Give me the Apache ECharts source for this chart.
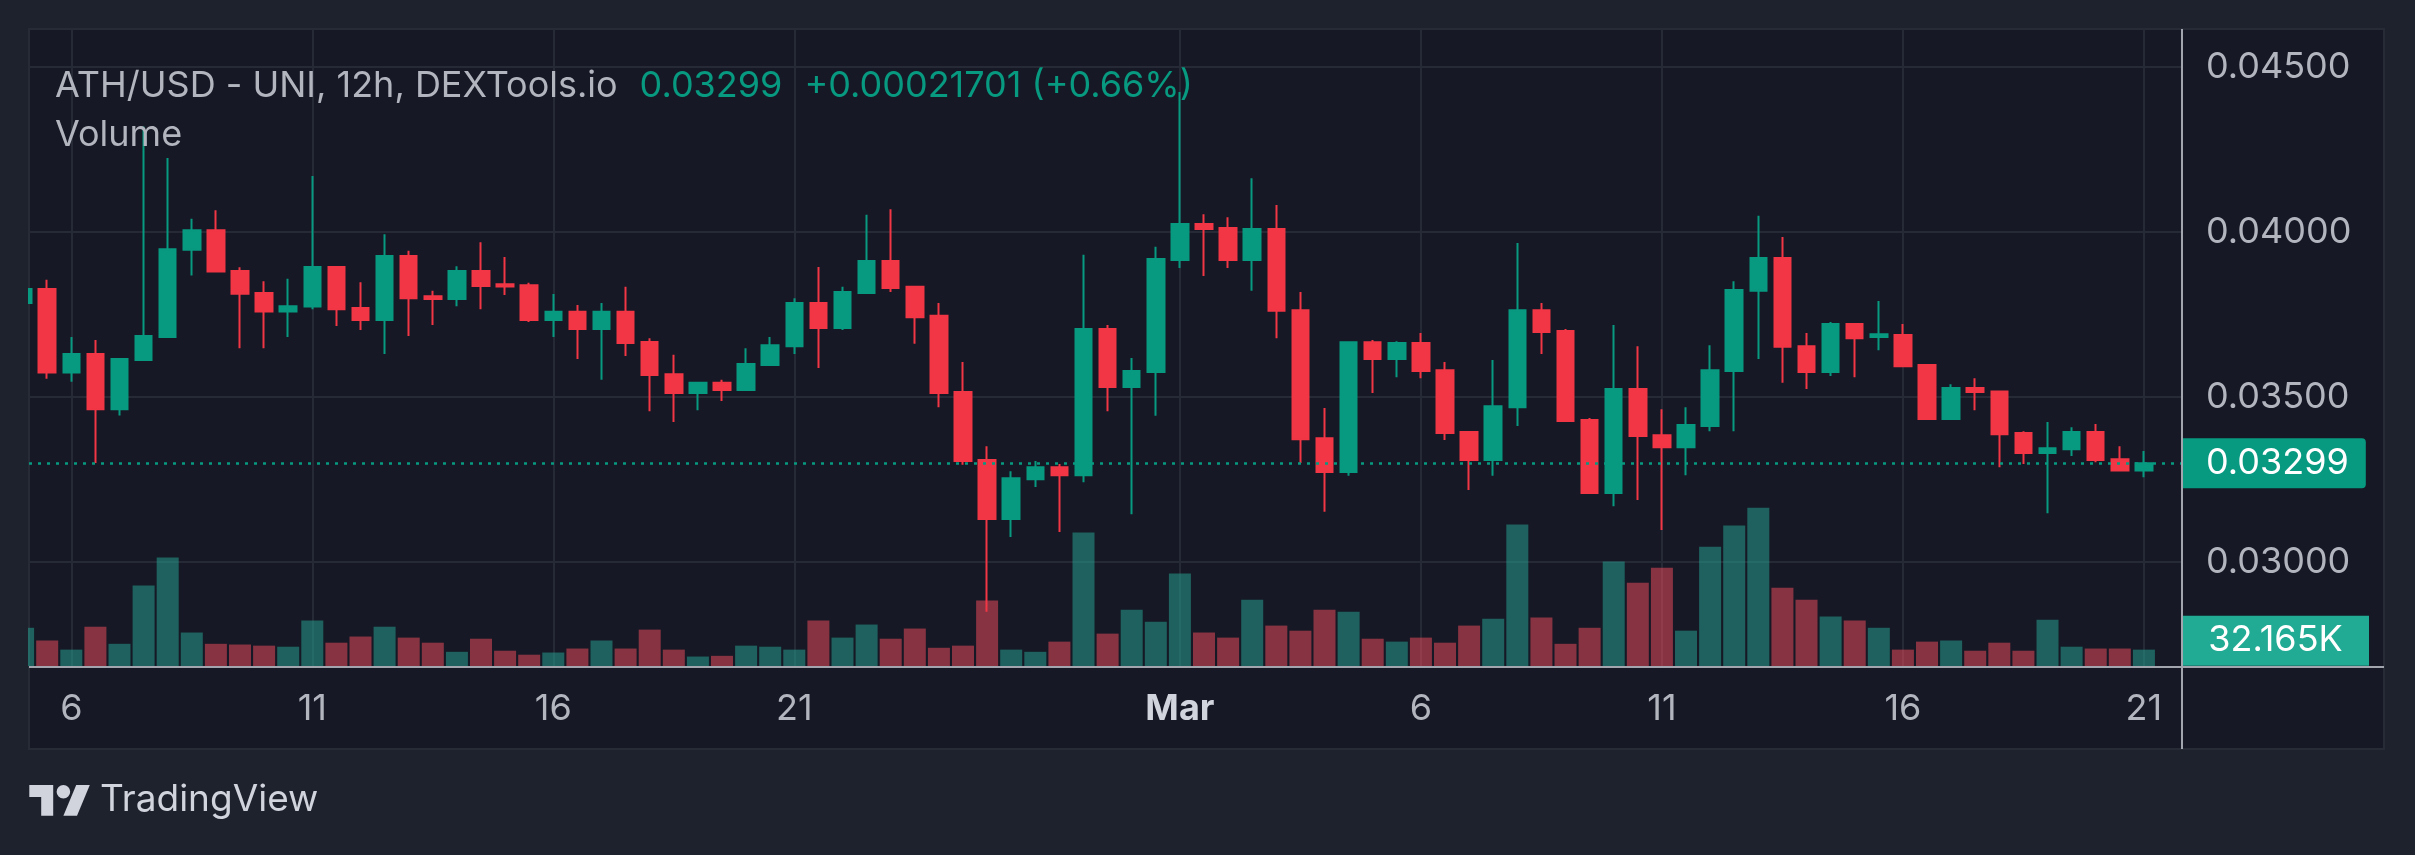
<!DOCTYPE html>
<html><head><meta charset="utf-8">
<script src="https://cdn.jsdelivr.net/npm/echarts@6/dist/echarts.min.js"></script>
<style>html,body{margin:0;padding:0;background:#1e222d;}#c{width:2415px;height:855px;}</style>
</head><body><div id="c"></div>
<script>
// ---- data (12h candles, ATH/USD) ----
const candleTimes = [
'02-05 00:00','02-05 12:00','02-06 00:00','02-06 12:00','02-07 00:00','02-07 12:00','02-08 00:00','02-08 12:00',
'02-09 00:00','02-09 12:00','02-10 00:00','02-10 12:00','02-11 00:00','02-11 12:00','02-12 00:00','02-12 12:00',
'02-13 00:00','02-13 12:00','02-14 00:00','02-14 12:00','02-15 00:00','02-15 12:00','02-16 00:00','02-16 12:00',
'02-17 00:00','02-17 12:00','02-18 00:00','02-18 12:00','02-19 00:00','02-19 12:00','02-20 00:00','02-20 12:00',
'02-21 00:00','02-21 12:00','02-22 00:00','02-22 12:00','02-23 00:00','02-23 12:00','02-24 00:00','02-24 12:00',
'02-25 00:00','02-25 12:00','02-26 00:00','02-26 12:00','02-27 00:00','02-27 12:00','02-28 00:00','02-28 12:00',
'03-01 00:00','03-01 12:00','03-02 00:00','03-02 12:00','03-03 00:00','03-03 12:00','03-04 00:00','03-04 12:00',
'03-05 00:00','03-05 12:00','03-06 00:00','03-06 12:00','03-07 00:00','03-07 12:00','03-08 00:00','03-08 12:00',
'03-09 00:00','03-09 12:00','03-10 00:00','03-10 12:00','03-11 00:00','03-11 12:00','03-12 00:00','03-12 12:00',
'03-13 00:00','03-13 12:00','03-14 00:00','03-14 12:00','03-15 00:00','03-15 12:00','03-16 00:00','03-16 12:00',
'03-17 00:00','03-17 12:00','03-18 00:00','03-18 12:00','03-19 00:00','03-19 12:00','03-20 00:00','03-20 12:00',
'03-21 00:00'];
const open = [0.03785,0.03827,0.03574,0.03630,0.03463,0.03612,0.03682,0.03946,0.04005,0.03882,
0.03815,0.03759,0.03774,0.03894,0.03770,0.03733,0.03927,0.03805,0.03797,0.03882,
0.03842,0.03839,0.03733,0.03758,0.03706,0.03758,0.03667,0.03569,0.03512,0.03543,
0.03521,0.03597,0.03654,0.03785,0.03709,0.03815,0.03912,0.03834,0.03746,0.03515,
0.03309,0.03130,0.03251,0.03287,0.03263,0.03706,0.03530,0.03576,0.03915,0.04024,
0.04012,0.03915,0.04009,0.03763,0.03375,0.03273,0.03666,0.03615,0.03664,0.03581,
0.03394,0.03309,0.03469,0.03763,0.03700,0.03430,0.03209,0.03524,0.03384,0.03348,
0.03412,0.03579,0.03822,0.03921,0.03654,0.03576,0.03721,0.03682,0.03688,0.03597,
0.03433,0.03527,0.03517,0.03391,0.03330,0.03342,0.03394,0.03311,0.03277];
const close = [0.03827,0.03574,0.03630,0.03463,0.03615,0.03685,0.03948,0.04005,0.03880,0.03813,
0.03759,0.03775,0.03894,0.03766,0.03733,0.03927,0.03799,0.03797,0.03882,0.03836,
0.03835,0.03733,0.03758,0.03706,0.03758,0.03664,0.03567,0.03512,0.03543,0.03521,
0.03600,0.03657,0.03785,0.03709,0.03818,0.03912,0.03830,0.03742,0.03512,0.03306,
0.03130,0.03254,0.03287,0.03263,0.03706,0.03530,0.03579,0.03918,0.04024,0.04009,
0.03915,0.04009,0.03761,0.03372,0.03273,0.03666,0.03615,0.03664,0.03579,0.03391,
0.03309,0.03472,0.03763,0.03697,0.03427,0.03209,0.03524,0.03382,0.03348,0.03415,
0.03581,0.03824,0.03921,0.03652,0.03576,0.03721,0.03678,0.03690,0.03593,0.03433,
0.03527,0.03515,0.03387,0.03330,0.03345,0.03394,0.03309,0.03277,0.03299];
const low = [0.03777,0.03555,0.03546,0.03300,0.03444,0.03609,0.03680,0.03868,0.03878,0.03648,
0.03648,0.03682,0.03766,0.03715,0.03703,0.03630,0.03685,0.03718,0.03775,0.03766,
0.03809,0.03727,0.03682,0.03615,0.03552,0.03624,0.03457,0.03424,0.03460,0.03488,
0.03521,0.03597,0.03630,0.03588,0.03703,0.03815,0.03818,0.03661,0.03469,0.03295,
0.02849,0.03076,0.03227,0.03091,0.03242,0.03457,0.03145,0.03443,0.03891,0.03867,
0.03891,0.03822,0.03678,0.03300,0.03152,0.03261,0.03512,0.03560,0.03557,0.03370,
0.03218,0.03261,0.03412,0.03630,0.03427,0.03209,0.03169,0.03188,0.03097,0.03263,
0.03396,0.03396,0.03615,0.03543,0.03524,0.03564,0.03560,0.03642,0.03593,0.03433,
0.03430,0.03460,0.03287,0.03297,0.03148,0.03321,0.03302,0.03275,0.03257];
const high = [0.03833,0.03855,0.03682,0.03673,0.03618,0.04320,0.04224,0.04040,0.04066,0.03893,
0.03851,0.03858,0.04170,0.03896,0.03848,0.03993,0.03943,0.03822,0.03896,0.03969,
0.03924,0.03846,0.03812,0.03779,0.03785,0.03834,0.03678,0.03628,0.03543,0.03552,
0.03648,0.03682,0.03799,0.03894,0.03834,0.04052,0.04069,0.03834,0.03785,0.03606,
0.03351,0.03275,0.03306,0.03297,0.03931,0.03718,0.03618,0.03955,0.04424,0.04054,
0.04045,0.04163,0.04082,0.03818,0.03467,0.03669,0.03673,0.03669,0.03694,0.03606,
0.03394,0.03612,0.03967,0.03785,0.03706,0.03436,0.03718,0.03654,0.03463,0.03469,
0.03657,0.03851,0.04049,0.03985,0.03694,0.03727,0.03721,0.03791,0.03721,0.03597,
0.03539,0.03557,0.03517,0.03396,0.03424,0.03408,0.03418,0.03351,0.03336];
const volumeK = [75.1,50.1,32.2,77.2,43.6,158.0,213.1,65.8,43.6,42.2,
40.0,37.9,89.4,45.8,57.9,77.2,55.8,45.8,27.9,53.6,
30.0,22.2,26.5,34.3,50.1,34.3,71.5,32.2,18.6,20.0,
40.0,37.9,32.2,89.4,55.8,81.5,53.6,73.6,35.8,40.0,
128.7,32.2,27.9,47.9,262.4,63.6,110.8,87.2,181.6,65.8,
55.8,130.1,79.4,69.4,110.8,106.5,53.6,47.9,55.8,45.8,
79.4,93.0,278.1,95.1,43.6,75.1,205.2,163.7,193.1,69.4,
234.5,276.0,311.0,153.7,130.1,97.2,89.4,75.1,32.2,47.9,
50.1,30.0,45.8,30.0,90.8,37.9,34.3,34.3,32.165];
const tickIndex = [2, 12, 22, 32, 48, 58, 68, 78, 88];
const tickLabels = ['6', '11', '16', '21', 'Mar', '6', '11', '16', '21'];
const priceTicks = [0.030, 0.035, 0.040, 0.045];
const headerSymbol = 'ATH/USD - UNI, 12h, DEXTools.io';
const headerPrice = '0.03299';
const headerChange = '+0.00021701 (+0.66%)';

// ---- styles ----
const FONT = 'Inter';
const FS = 36;
const UP = '#089981', DOWN = '#f23645';
const VOL_UP = 'rgba(38,170,152,0.5)', VOL_DOWN = 'rgba(250,78,95,0.5)';
const TXT = '#b2b5be';
const GRIDC = '#262a36';
const OUTER = '#1e222d';

const lastI = close.length - 1;
const candleData = close.map((c, i) => [i, open[i], c, low[i], high[i]]);
const volData = volumeK.map((v, i) => ({ value: [i, v], itemStyle: { color: close[i] >= open[i] ? VOL_UP : VOL_DOWN } }));
const X_MIN = 0.245, X_MAX = 89.58;

const chart = echarts.init(document.getElementById('c'));
chart.setOption({
  backgroundColor: OUTER,
  animation: false,
  textStyle: { fontFamily: FONT },
  title: [
    { left: 55, top: 66, padding: 0, z: 20,
      text: '{a|' + headerSymbol + '}{b|' + headerPrice + '}{c|' + headerChange + '}',
      textStyle: { fontWeight: 'normal', rich: {
        a: { color: TXT, fontSize: FS, fontFamily: FONT, fontWeight: 'normal', lineHeight: 40 },
        b: { color: UP, fontSize: FS, fontFamily: FONT, fontWeight: 'normal', lineHeight: 40, padding: [0, 0, 0, 22] },
        c: { color: UP, fontSize: FS, fontFamily: FONT, fontWeight: 'normal', lineHeight: 40, padding: [0, 0, 0, 22] }
      } } },
    { left: 55, top: 115, padding: 0, z: 20, text: 'Volume',
      textStyle: { color: TXT, fontSize: FS, fontFamily: FONT, fontWeight: 'normal', lineHeight: 40 } }
  ],
  graphic: [
    { type: 'rect', z: -10, silent: true, shape: { x: 29, y: 29, width: 2355, height: 720 },
      style: { fill: '#161925', stroke: '#272b36', lineWidth: 2 } },
    { type: 'rect', z: 40, silent: true, shape: { x: 0, y: 29, width: 28, height: 720 },
      style: { fill: OUTER } },
    { type: 'line', z: 50, silent: true, shape: { x1: 29, y1: 667, x2: 2384, y2: 667 },
      style: { stroke: '#a2a5ae', lineWidth: 2 } },
    { type: 'line', z: 50, silent: true, shape: { x1: 2182, y1: 29, x2: 2182, y2: 749 },
      style: { stroke: '#a2a5ae', lineWidth: 2 } },
    { type: 'polygon', silent: true, shape: { points: [[29.3,785],[53.2,785],[53.2,815.7],[41.2,815.7],[41.2,797],[29.3,797]] }, style: { fill: '#d1d4dc' } },
    { type: 'circle', silent: true, shape: { cx: 63.4, cy: 791.8, r: 6.8 }, style: { fill: '#d1d4dc' } },
    { type: 'polygon', silent: true, shape: { points: [[63.4,815.7],[77,815.7],[89.8,785],[76.2,785]] }, style: { fill: '#d1d4dc' } },
    { type: 'text', silent: true, x: 100, y: 800,
      style: { text: 'TradingView', fill: '#d1d4dc', fontSize: 37, fontFamily: FONT, verticalAlign: 'middle', align: 'left' } }
  ],
  grid: { left: 29, top: 29, width: 2153, height: 637, show: false },
  xAxis: {
    type: 'value', min: X_MIN, max: X_MAX,
    axisLine: { show: false },
    axisTick: { show: false, customValues: tickIndex },
    axisLabel: {
      customValues: tickIndex, margin: 23, color: TXT, fontSize: FS, fontFamily: FONT, lineHeight: 40,
      formatter: v => { const k = tickIndex.indexOf(Math.round(v)); const s = k >= 0 ? tickLabels[k] : ''; return s === 'Mar' ? '{m|Mar}' : s; },
      rich: { m: { color: '#d1d4dc', fontWeight: 'bold', fontSize: FS, fontFamily: FONT, lineHeight: 40 } }
    },
    splitLine: { show: true, lineStyle: { color: GRIDC, width: 2 } }
  },
  yAxis: [
    { type: 'value', position: 'right', min: 0.026848, max: 0.046152,
      axisLine: { show: false },
      axisTick: { show: false, customValues: priceTicks },
      axisLabel: { customValues: priceTicks, margin: 24, color: TXT, fontSize: FS, fontFamily: FONT,
        formatter: v => v.toFixed(5) },
      splitLine: { show: true, lineStyle: { color: GRIDC, width: 2 } } },
    { type: 'value', min: 0, max: 1252, show: false, splitLine: { show: false } }
  ],
  series: [
    { type: 'bar', name: 'Volume', xAxisIndex: 0, yAxisIndex: 1, data: volData, barWidth: 22, silent: true, z: 1, clip: true,
      markPoint: { silent: true, symbol: 'rect', symbolSize: [187, 50], symbolOffset: [93.5, -9],
        itemStyle: { color: '#22ab94' },
        label: { show: true, position: 'inside', color: '#ffffff', fontSize: FS, fontFamily: FONT,
          formatter: p => p.value.toFixed(3) + 'K' },
        data: [{ coord: [X_MAX, volumeK[lastI]], value: volumeK[lastI] }] } },
    { type: 'candlestick', name: 'ATH/USD', xAxisIndex: 0, yAxisIndex: 0, data: candleData, clip: true,
      encode: { x: 0, y: [1, 2, 3, 4] }, barWidth: 17, silent: true, z: 3,
      itemStyle: { color: UP, color0: DOWN, borderColor: UP, borderColor0: DOWN, borderWidth: 2 },
      markLine: { silent: true, symbol: ['none', 'none'], precision: 5,
        lineStyle: { color: UP, type: [3, 6], width: 2.5 },
        label: { position: 'end', distance: 0, color: '#ffffff', backgroundColor: UP, fontSize: FS, fontFamily: FONT,
          lineHeight: 36, padding: [7, 17, 7, 24], borderRadius: [0, 4, 4, 0],
          formatter: p => Number(p.value).toFixed(5) },
        data: [{ yAxis: close[lastI] }] } }
  ]
});
</script></body></html>
